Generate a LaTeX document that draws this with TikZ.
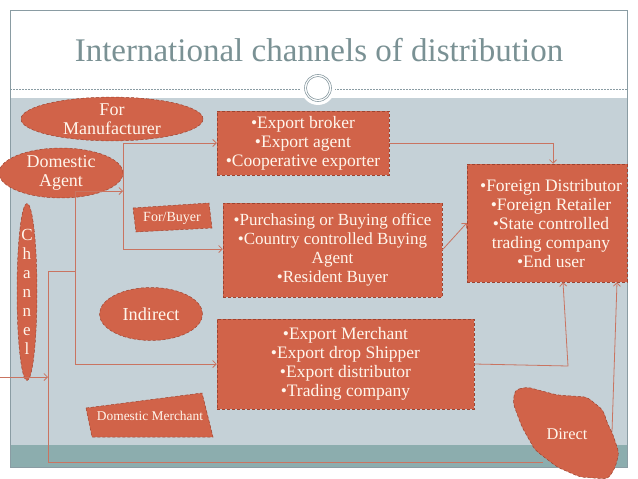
\documentclass[tikz,border=0pt]{standalone}
\usepackage{fontspec}
\setmainfont{Liberation Serif}
\usetikzlibrary{arrows.meta,shapes.geometric}
\definecolor{acc}{HTML}{D16349}
\definecolor{accline}{HTML}{9E4330}
\definecolor{connc}{HTML}{C97461}
\definecolor{bandc}{HTML}{C5D1D7}
\definecolor{tealc}{HTML}{8CADAE}
\definecolor{titlec}{HTML}{7A9194}
\definecolor{framec}{HTML}{8A9CA3}
\definecolor{cream}{HTML}{FFF6EC}
\begin{document}
\begin{tikzpicture}[x=1pt,y=-1pt,
  shp/.style={fill=acc,draw=accline,densely dashed,line width=0.5pt,text=cream},
  boxn/.style={shp,rectangle,inner sep=0pt,align=center,font=\fontsize{17.5}{19}\selectfont},
  ell/.style={shp,ellipse,inner sep=0pt,align=center},
  lbl/.style={text=cream,align=center,inner sep=0pt},
  conn/.style={draw=connc,line width=0.8pt,solid},
  arr/.style={conn,-{Straight Barb[length=3.5pt,width=7pt]}}]
\useasboundingbox (0,0) rectangle (638,479);
\fill[white] (0,0) rectangle (638,479);
% slide frame and bands
\fill[bandc] (10,98) rectangle (627,445);
\fill[tealc] (10,445) rectangle (627,467);
\draw[framec,line width=0.6pt] (10,10) rectangle (627,467);
\draw[framec,line width=0.5pt,dash pattern=on 2pt off 1pt] (10,89) -- (627,89);
\fill[white] (318,88) circle (17);
\draw[framec,line width=0.6pt] (318,88) circle (13.5);
\draw[framec,line width=0.6pt] (318,88) circle (11.5);
\node[text=titlec,font=\fontsize{33}{38}\selectfont] (title) at (319,50) {International channels of distribution};

% nodes
\node[ell,minimum width=182pt,minimum height=37pt,font=\fontsize{18}{19}\selectfont] (mfr) at (112,119) {For\\Manufacturer};
\node[ell,minimum width=124pt,minimum height=38pt,font=\fontsize{18}{19.5}\selectfont] (agent) at (61,173) {Domestic\\Agent};
\node[ell,minimum width=20pt,minimum height=139pt,font=\fontsize{17}{19}\selectfont] (channel) at (27,292) {C\\h\\a\\n\\n\\e\\l};
\node[ell,minimum width=103pt,minimum height=53pt,font=\fontsize{18.3}{20}\selectfont] (indirect) at (151,314) {Indirect};

\draw[shp] (133,208) -- (209,203) -- (212,228) -- (136,232) -- cycle;
\node[lbl,font=\fontsize{14}{15}\selectfont] (forbuyer) at (172,218) {For/Buyer};
\draw[shp] (86,408) -- (202,393) -- (213,437) -- (92,437) -- cycle;
\node[lbl,font=\fontsize{13.4}{15}\selectfont] (dommerch) at (150,416) {Domestic Merchant};

\node[boxn,minimum width=172pt,minimum height=64pt] (box7) at (303,143)
  {\textbullet Export broker\\\textbullet Export agent\\\textbullet Cooperative exporter};
\node[boxn,minimum width=219pt,minimum height=94pt,font=\fontsize{17}{19}\selectfont] (box8) at (332.5,250)
  {\textbullet Purchasing or Buying office\\\textbullet Country controlled Buying\\Agent\\\textbullet Resident Buyer};
\node[boxn,minimum width=257pt,minimum height=90pt] (box9) at (345.5,364)
  {\textbullet Export Merchant\\\textbullet Export drop Shipper\\\textbullet Export distributor\\\textbullet Trading company};
\node[boxn,minimum width=160pt,minimum height=118pt] (box10) at (547,223) {};
\node[lbl,font=\fontsize{17.5}{19}\selectfont] (box10text) at (551,224)
  {\textbullet Foreign Distributor\\\textbullet Foreign Retailer\\\textbullet State controlled\\trading company\\\textbullet End user};

% connectors
\coordinate (agB) at (75,191);
\coordinate (j1) at (123,143);
\coordinate (j2) at (123,249);
\coordinate (j3) at (48,271);
\coordinate (chin) at (0,377);
\coordinate (dirL) at (543,462);
\coordinate (dirT) at (612,432);
\coordinate (j4) at (568,366);
\draw[arr] (agB) -- (agB -| j1);
\draw[conn] (j1) -- (j2);
\draw[arr] (j1) -- (j1 -| box7.west);
\draw[arr] (j2) -- (j2 -| box8.west);
\draw[arr] (agB) |- (box9.west);
\draw[conn] (j3) -- (j3 -| agB);
\draw[conn] (j3) |- (dirL);
\draw[arr] (chin) -- (chin -| j3);
\draw[arr] (box7.east) -| ([xshift=6pt]box10.north);
\draw[arr] (box8.east) -- (box10.west);
\draw[arr] (box9.east) -- (j4) -- ([xshift=16pt]box10.south);
\draw[arr] (dirT) -- ([xshift=70pt]box10.south);

% direct blob
\draw[shp,rounded corners=4pt] (515,390) -- (527,387) -- (557,395) -- (587,397) -- (603,410) -- (608,425) -- (612,432) -- (619,453) -- (615,468) -- (608,479) -- (580,477) -- (557,467) -- (535,450) -- (522,427) -- (513,403) -- cycle;
\node[lbl,font=\fontsize{16.4}{19}\selectfont] (direct) at (567,434) {Direct};
\end{tikzpicture}
\end{document}
